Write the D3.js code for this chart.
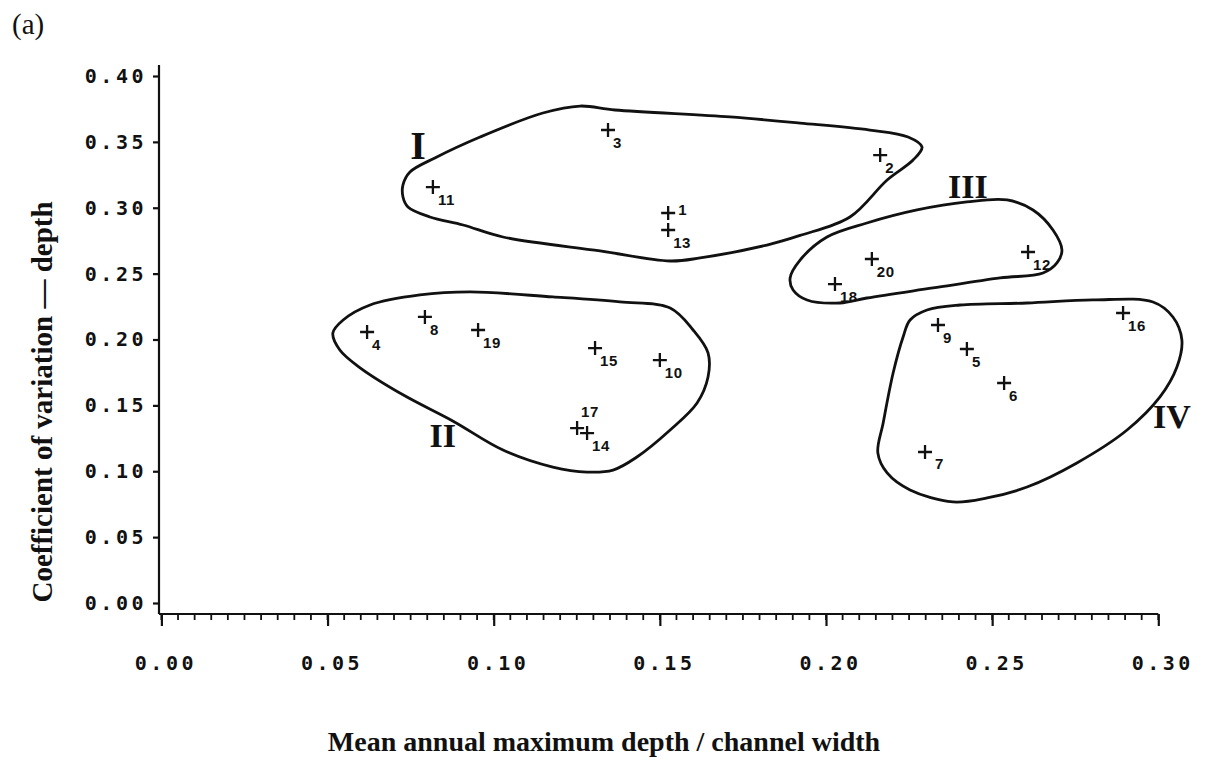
<!DOCTYPE html>
<html>
<head>
<meta charset="utf-8">
<script src="https://cdn.jsdelivr.net/npm/d3@7"></script>
<style>
  body { margin: 0; background: #fff; }
  svg { display: block; }
</style>
</head>
<body>
<svg id="chart" width="1207" height="770"></svg>
<script>
// tick values
const xTicks = [0, 0.05, 0.10, 0.15, 0.20, 0.25, 0.30]
const yTicks = [0, 0.05, 0.10, 0.15, 0.20, 0.25, 0.30, 0.35, 0.40]

// stations
const pointIds = [1, 2, 3, 4, 5, 6, 7, 8, 9, 10, 11, 12, 13, 14, 15, 16, 17, 18, 19, 20]
const pointX = [0.1525, 0.2163, 0.1344, 0.0619, 0.2424, 0.2536, 0.2298, 0.0793, 0.2337, 0.1500,
                0.0817, 0.2608, 0.1525, 0.1281, 0.1305, 0.2894, 0.1251, 0.2027, 0.0953, 0.2138]
const pointY = [0.2960, 0.3400, 0.3590, 0.2057, 0.1928, 0.1670, 0.1146, 0.2171, 0.2110, 0.1844,
                0.3157, 0.2664, 0.2831, 0.1290, 0.1935, 0.2201, 0.1328, 0.2421, 0.2072, 0.2611]

// hand drawn group outlines, [x, y] in data units
const groupI = [[0.0727,0.3173],[0.0748,0.3271],[0.0823,0.3378],[0.0959,0.3537],[0.1148,0.3719],
  [0.1260,0.3772],[0.1365,0.3742],[0.1711,0.3689],[0.1922,0.3643],[0.2132,0.3590],[0.2247,0.3537],
  [0.2289,0.3461],[0.2262,0.3362],[0.2184,0.3211],[0.2072,0.2930],[0.1922,0.2790],[0.1822,0.2717],
  [0.1621,0.2619],[0.1531,0.2596],[0.1320,0.2672],[0.1028,0.2778],[0.0908,0.2869],[0.0808,0.2930],
  [0.0742,0.3006],[0.0727,0.3082]]
const groupII = [[0.0516,0.2049],[0.0547,0.2148],[0.0628,0.2262],[0.0778,0.2338],[0.0929,0.2361],
  [0.1178,0.2323],[0.1380,0.2285],[0.1531,0.2239],[0.1600,0.2072],[0.1645,0.1898],[0.1645,0.1715],
  [0.1612,0.1518],[0.1531,0.1313],[0.1431,0.1108],[0.1359,0.1009],[0.1281,0.0994],[0.1178,0.1032],
  [0.1028,0.1161],[0.0878,0.1380],[0.0727,0.1580],[0.0598,0.1785],[0.0537,0.1920]]
const groupIII = [[0.1892,0.2467],[0.1922,0.2603],[0.2003,0.2778],[0.2123,0.2884],[0.2274,0.2983],
  [0.2424,0.3044],[0.2545,0.3059],[0.2623,0.2983],[0.2683,0.2831],[0.2710,0.2679],[0.2695,0.2581],
  [0.2653,0.2505],[0.2524,0.2467],[0.2322,0.2391],[0.2123,0.2315],[0.2042,0.2277],[0.1943,0.2300],
  [0.1901,0.2376]]
const groupIV = [[0.2253,0.2148],[0.2304,0.2224],[0.2403,0.2262],[0.2605,0.2277],[0.2803,0.2300],
  [0.2984,0.2285],[0.3044,0.2171],[0.3071,0.1996],[0.3056,0.1791],[0.3005,0.1564],[0.2906,0.1313],
  [0.2755,0.1063],[0.2605,0.0880],[0.2485,0.0797],[0.2382,0.0767],[0.2253,0.0858],[0.2184,0.0987],
  [0.2156,0.1139],[0.2172,0.1366],[0.2202,0.1746],[0.2232,0.2019]]

const groupNames = ["I", "II", "III", "IV"]
const groupLabelX = [0.0772, 0.0847, 0.2427, 0.3041]
const groupLabelY = [0.3370, 0.1184, 0.3074, 0.1328]

const svg = d3.select('#chart')
const ink = '#111'

const x = d3.scaleLinear().domain([0, 0.30]).range([161.4, 1158.3])
const y = d3.scaleLinear().domain([0, 0.40]).range([603, 76])

const axisLeftX = 159
const axisBottomY = 614

// axis lines
svg.append('line')
    .attr('x1', axisLeftX).attr('x2', axisLeftX)
    .attr('y1', 65).attr('y2', axisBottomY)
    .attr('stroke', ink).attr('stroke-width', 2.2)
svg.append('line')
    .attr('x1', axisLeftX).attr('x2', x(0.30))
    .attr('y1', axisBottomY).attr('y2', axisBottomY)
    .attr('stroke', ink).attr('stroke-width', 2.2)

// y axis
const yAxis = svg.append('g')
    .attr('transform', `translate(${axisLeftX}, 0)`)
    .call(d3.axisLeft(y).tickValues(yTicks).tickSize(6).tickPadding(6)
        .tickFormat(d3.format('.2f')))
yAxis.select('.domain').remove()

// x axis, minor ticks every 0.005
svg.append('g')
    .attr('transform', `translate(0, ${axisBottomY})`)
    .selectAll('line')
    .data(d3.range(0, 61).map(i => i * 0.005))
    .join('line')
    .attr('x1', d => x(d)).attr('x2', d => x(d))
    .attr('y1', 0).attr('y2', 6)
    .attr('stroke', ink).attr('stroke-width', 1.8)

const xAxis = svg.append('g')
    .attr('transform', `translate(0, ${axisBottomY})`)
    .call(d3.axisBottom(x).tickValues(xTicks).tickSize(12).tickPadding(30)
        .tickFormat(d3.format('.2f')))
xAxis.select('.domain').remove()
xAxis.selectAll('.tick text').attr('dx', 4)

svg.selectAll('.tick line').attr('stroke', ink).attr('stroke-width', 2.2)
svg.selectAll('.tick text')
    .attr('fill', ink)
    .style('font-family', '"DejaVu Sans Mono", monospace')
    .style('font-weight', 'bold')
    .style('font-size', '20px')
    .style('letter-spacing', '3.5px')

// outlines
const outline = d3.line()
    .x(d => x(d[0]))
    .y(d => y(d[1]))
    .curve(d3.curveCatmullRomClosed.alpha(0.5))

svg.append('g')
    .selectAll('path')
    .data([groupI, groupII, groupIII, groupIV])
    .join('path')
    .attr('d', outline)
    .attr('fill', 'none')
    .attr('stroke', ink)
    .attr('stroke-width', 2.8)
    .attr('stroke-linejoin', 'round')

svg.append('g')
    .selectAll('text')
    .data(groupNames)
    .join('text')
    .attr('x', (d, i) => x(groupLabelX[i]))
    .attr('y', (d, i) => y(groupLabelY[i]))
    .attr('text-anchor', 'middle')
    .attr('fill', ink)
    .style('font-family', '"Liberation Serif", "Times New Roman", serif')
    .style('font-weight', 'bold')
    .style('font-size', (d, i) => i == 0 ? '40px' : '34px')
    .text(d => d)

// points
const points = pointIds.map((id, i) => ({ id: id, x: pointX[i], y: pointY[i] }))

// a few labels sit apart from the usual lower right spot
const labelShift = { 1: [10, 2], 17: [4, -11], 7: [10, 17] }

const pts = svg.append('g')
    .selectAll('g')
    .data(points)
    .join('g')
    .attr('transform', d => `translate(${x(d.x)}, ${y(d.y)})`)

pts.append('path')
    .attr('d', 'M-7,0H7M0,-7V7')
    .attr('stroke', ink)
    .attr('stroke-width', 2.3)

pts.append('text')
    .attr('x', d => (labelShift[d.id] || [5, 18])[0])
    .attr('y', d => (labelShift[d.id] || [5, 18])[1])
    .attr('fill', ink)
    .style('font-family', '"Liberation Sans", Arial, sans-serif')
    .style('font-weight', 'bold')
    .style('font-size', '15px')
    .style('letter-spacing', '0.5px')
    .text(d => d.id)

// titles
svg.append('text')
    .attr('x', 12).attr('y', 34)
    .attr('fill', ink)
    .style('font-family', '"Liberation Serif", "Times New Roman", serif')
    .style('font-size', '29px')
    .text('(a)')

svg.append('text')
    .attr('transform', 'translate(52, 402) rotate(-90)')
    .attr('text-anchor', 'middle')
    .attr('fill', ink)
    .style('font-family', '"Liberation Serif", "Times New Roman", serif')
    .style('font-weight', 'bold')
    .style('font-size', '29px')
    .text('Coefficient of variation — depth')

svg.append('text')
    .attr('x', 604).attr('y', 751)
    .attr('text-anchor', 'middle')
    .attr('fill', ink)
    .style('font-family', '"Liberation Serif", "Times New Roman", serif')
    .style('font-weight', 'bold')
    .style('font-size', '28px')
    .text('Mean annual maximum depth / channel width')
</script>
</body>
</html>
